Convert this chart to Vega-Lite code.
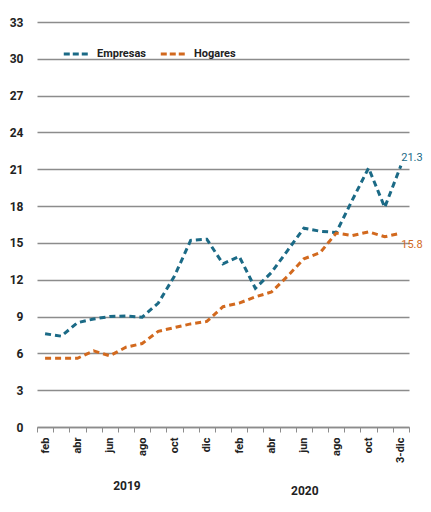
{
  "$schema": "https://vega.github.io/schema/vega-lite/v6.json",
  "width": 372,
  "height": 405,
  "autosize": "none",
  "padding": {"left": 37, "top": 22, "right": 22, "bottom": 85},
  "background": "white",
  "config": {
    "view": {"stroke": null},
    "font": "Roboto, sans-serif"
  },
  "datasets": {
    "series": [
      {"mes": "feb 2019", "serie": "Empresas", "valor": 7.6},
      {"mes": "mar 2019", "serie": "Empresas", "valor": 7.4},
      {"mes": "abr 2019", "serie": "Empresas", "valor": 8.5},
      {"mes": "may 2019", "serie": "Empresas", "valor": 8.8},
      {"mes": "jun 2019", "serie": "Empresas", "valor": 9.0},
      {"mes": "jul 2019", "serie": "Empresas", "valor": 9.05},
      {"mes": "ago 2019", "serie": "Empresas", "valor": 8.95},
      {"mes": "sep 2019", "serie": "Empresas", "valor": 10.1},
      {"mes": "oct 2019", "serie": "Empresas", "valor": 12.3},
      {"mes": "nov 2019", "serie": "Empresas", "valor": 15.2},
      {"mes": "dic 2019", "serie": "Empresas", "valor": 15.3},
      {"mes": "ene 2020", "serie": "Empresas", "valor": 13.3},
      {"mes": "feb 2020", "serie": "Empresas", "valor": 13.9},
      {"mes": "mar 2020", "serie": "Empresas", "valor": 11.3},
      {"mes": "abr 2020", "serie": "Empresas", "valor": 12.6},
      {"mes": "may 2020", "serie": "Empresas", "valor": 14.4},
      {"mes": "jun 2020", "serie": "Empresas", "valor": 16.2},
      {"mes": "jul 2020", "serie": "Empresas", "valor": 15.95},
      {"mes": "ago 2020", "serie": "Empresas", "valor": 15.85},
      {"mes": "sep 2020", "serie": "Empresas", "valor": 18.5},
      {"mes": "oct 2020", "serie": "Empresas", "valor": 21.1},
      {"mes": "nov 2020", "serie": "Empresas", "valor": 17.9},
      {"mes": "3-dic 2020", "serie": "Empresas", "valor": 21.3},
      {"mes": "feb 2019", "serie": "Hogares", "valor": 5.6},
      {"mes": "mar 2019", "serie": "Hogares", "valor": 5.6},
      {"mes": "abr 2019", "serie": "Hogares", "valor": 5.6},
      {"mes": "may 2019", "serie": "Hogares", "valor": 6.2},
      {"mes": "jun 2019", "serie": "Hogares", "valor": 5.8},
      {"mes": "jul 2019", "serie": "Hogares", "valor": 6.5},
      {"mes": "ago 2019", "serie": "Hogares", "valor": 6.8},
      {"mes": "sep 2019", "serie": "Hogares", "valor": 7.8},
      {"mes": "oct 2019", "serie": "Hogares", "valor": 8.1},
      {"mes": "nov 2019", "serie": "Hogares", "valor": 8.4},
      {"mes": "dic 2019", "serie": "Hogares", "valor": 8.6},
      {"mes": "ene 2020", "serie": "Hogares", "valor": 9.8},
      {"mes": "feb 2020", "serie": "Hogares", "valor": 10.1},
      {"mes": "mar 2020", "serie": "Hogares", "valor": 10.6},
      {"mes": "abr 2020", "serie": "Hogares", "valor": 11.0},
      {"mes": "may 2020", "serie": "Hogares", "valor": 12.3},
      {"mes": "jun 2020", "serie": "Hogares", "valor": 13.7},
      {"mes": "jul 2020", "serie": "Hogares", "valor": 14.2},
      {"mes": "ago 2020", "serie": "Hogares", "valor": 15.8},
      {"mes": "sep 2020", "serie": "Hogares", "valor": 15.6},
      {"mes": "oct 2020", "serie": "Hogares", "valor": 15.9},
      {"mes": "nov 2020", "serie": "Hogares", "valor": 15.5},
      {"mes": "3-dic 2020", "serie": "Hogares", "valor": 15.8}
    ],
    "years": [
      {"mes": "jul 2019", "anio": "2019", "pos": -4.8},
      {"mes": "jun 2020", "anio": "2020", "pos": -5.2}
    ]
  },
  "layer": [
    {
      "data": {"name": "series"},
      "mark": {"type": "line", "strokeWidth": 3, "strokeDash": [6, 4], "strokeCap": "butt"},
      "encoding": {
        "x": {
          "field": "mes", "type": "nominal", "sort": null, "bandPosition": 0.5,
          "scale": {"type": "band", "paddingInner": 0, "paddingOuter": 0},
          "axis": {
            "title": null,
            "labelAngle": -90,
            "labelFontSize": 11,
            "labelFontWeight": "bold",
            "labelColor": "#222222",
            "labelPadding": 5,
            "labelOverlap": false,
            "tickBand": "extent",
            "tickSize": 5,
            "tickColor": "#8c8c8c",
            "tickWidth": 1,
            "domainColor": "#8c8c8c",
            "domainWidth": 1.5,
            "grid": false,
            "labelExpr": "indexof(['feb','abr','jun','ago','oct','dic','3-dic'], split(datum.value,' ')[0]) >= 0 ? split(datum.value,' ')[0] : ''"
          }
        },
        "y": {
          "field": "valor", "type": "quantitative",
          "scale": {"domain": [0, 33], "nice": false},
          "axis": {
            "title": null,
            "values": [0, 3, 6, 9, 12, 15, 18, 21, 24, 27, 30, 33],
            "tickCount": 12,
            "labelOverlap": false,
            "labelBound": false,
            "domain": false,
            "ticks": false,
            "labelPadding": 14,
            "labelFontSize": 12,
            "labelFontWeight": "bold",
            "labelColor": "#222222",
            "gridColor": "#8c8c8c",
            "gridWidth": 1.5
          }
        },
        "color": {
          "field": "serie", "type": "nominal",
          "scale": {"domain": ["Empresas", "Hogares"], "range": ["#1b6a86", "#d2691e"]},
          "legend": {
            "title": null,
            "orient": "none",
            "legendX": 25,
            "legendY": 17,
            "direction": "horizontal",
            "symbolType": "stroke",
            "symbolSize": 700,
            "symbolStrokeWidth": 3,
            "symbolDash": [6, 3],
            "labelFontSize": 11,
            "labelFontWeight": "bold",
            "labelColor": "#222222",
            "labelOffset": 5,
            "columnPadding": 8
          }
        }
      }
    },
    {
      "data": {"name": "series"},
      "transform": [{"filter": "datum.mes == '3-dic 2020' && datum.serie == 'Empresas'"}],
      "mark": {"type": "text", "dx": 11, "dy": -8, "fontSize": 11, "align": "center"},
      "encoding": {
        "x": {"field": "mes", "type": "nominal", "sort": null, "bandPosition": 0.5},
        "y": {"field": "valor", "type": "quantitative"},
        "text": {"field": "valor", "type": "quantitative", "format": ".1f"},
        "color": {"field": "serie", "type": "nominal", "legend": null}
      }
    },
    {
      "data": {"name": "series"},
      "transform": [{"filter": "datum.mes == '3-dic 2020' && datum.serie == 'Hogares'"}],
      "mark": {"type": "text", "dx": 11, "dy": 12, "fontSize": 11, "align": "center"},
      "encoding": {
        "x": {"field": "mes", "type": "nominal", "sort": null, "bandPosition": 0.5},
        "y": {"field": "valor", "type": "quantitative"},
        "text": {"field": "valor", "type": "quantitative", "format": ".1f"},
        "color": {"field": "serie", "type": "nominal", "legend": null}
      }
    },
    {
      "data": {"name": "years"},
      "mark": {"type": "text", "fontSize": 12, "fontWeight": "bold", "color": "#222222", "dx": 1},
      "encoding": {
        "x": {"field": "mes", "type": "nominal", "sort": null, "bandPosition": 0.5},
        "y": {"field": "pos", "type": "quantitative"},
        "text": {"field": "anio", "type": "nominal"}
      }
    }
  ]
}
